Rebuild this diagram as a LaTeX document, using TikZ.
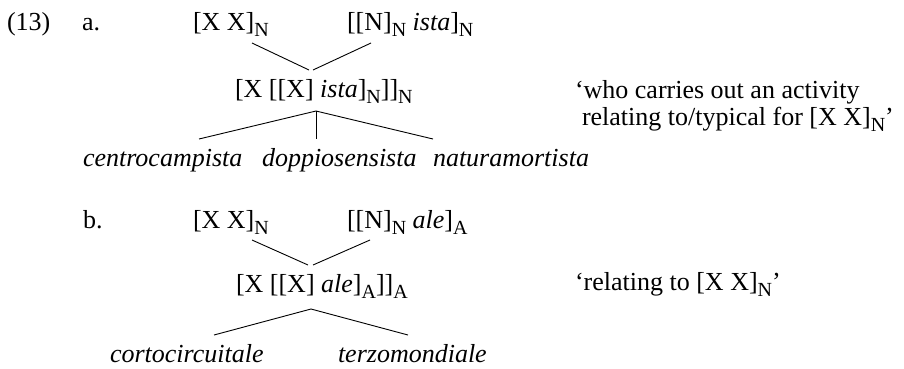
\documentclass[tikz,border=0pt]{standalone}
\usepackage{fontspec}
\setmainfont{Liberation Serif}[ItalicFont={Liberation Serif Italic}]
\newcommand\sbx[1]{\raisebox{-6pt}{\fontsize{20}{20}\selectfont #1}}
\begin{document}
\begin{tikzpicture}[x=1pt,y=-1pt,
  lbl/.style={anchor=base west,inner sep=0pt,outer sep=0pt,font=\fontsize{26}{30}\selectfont},
  br/.style={line width=0.9pt}]
\useasboundingbox (0,0) rectangle (904,368);
% (a)
\node[lbl] (num) at (7,30) {(13)};
\node[lbl] (la) at (82,30) {a.};
\node[lbl] (a1) at (193,30) {[X X]\sbx{N}};
\node[lbl] (a2) at (347,30) {[[N]\sbx{N} \textit{ista}]\sbx{N}};
\node[lbl] (a3) at (235,97) {[X [[X] \textit{ista}]\sbx{N}]]\sbx{N}};
\node[lbl] (a4) at (83,166) {\textit{centrocampista}};
\node[lbl] (a5) at (262,166) {\textit{doppiosensista}};
\node[lbl] (a6) at (433,166) {\textit{naturamortista}};
\node[lbl] (ag1) at (575,98) {‘who carries out an activity};
\node[lbl] (ag2) at (582,125) {relating to/typical for [X X]\sbx{N}’};
\coordinate (a1e) at (252,43);
\coordinate (a2e) at (371,43);
\coordinate (a3tl) at (309,70);
\coordinate (a3tr) at (313,70);
\coordinate (a3b) at (316,111);
\coordinate (a4e) at (199,139);
\coordinate (a5e) at (316,139);
\coordinate (a6e) at (433,139);
\draw[br] (a1e) -- (a3tl);
\draw[br] (a2e) -- (a3tr);
\draw[br] (a3b) -- (a4e);
\draw[br] (a3b) -- (a5e);
\draw[br] (a3b) -- (a6e);
% (b)
\node[lbl] (lb) at (83,228) {b.};
\node[lbl] (b1) at (193,228) {[X X]\sbx{N}};
\node[lbl] (b2) at (347,228) {[[N]\sbx{N} \textit{ale}]\sbx{A}};
\node[lbl] (b3) at (236,292) {[X [[X] \textit{ale}]\sbx{A}]]\sbx{A}};
\node[lbl] (b4) at (110,362) {\textit{cortocircuitale}};
\node[lbl] (b5) at (338,362) {\textit{terzomondiale}};
\node[lbl] (bg) at (575,290) {‘relating to [X X]\sbx{N}’};
\coordinate (b1e) at (252,240);
\coordinate (b2e) at (370,240);
\coordinate (b3tl) at (308,265);
\coordinate (b3tr) at (313,265);
\coordinate (b3b) at (311,309);
\coordinate (b4e) at (214,335);
\coordinate (b5e) at (408,335);
\draw[br] (b1e) -- (b3tl);
\draw[br] (b2e) -- (b3tr);
\draw[br] (b3b) -- (b4e);
\draw[br] (b3b) -- (b5e);
\end{tikzpicture}
\end{document}
